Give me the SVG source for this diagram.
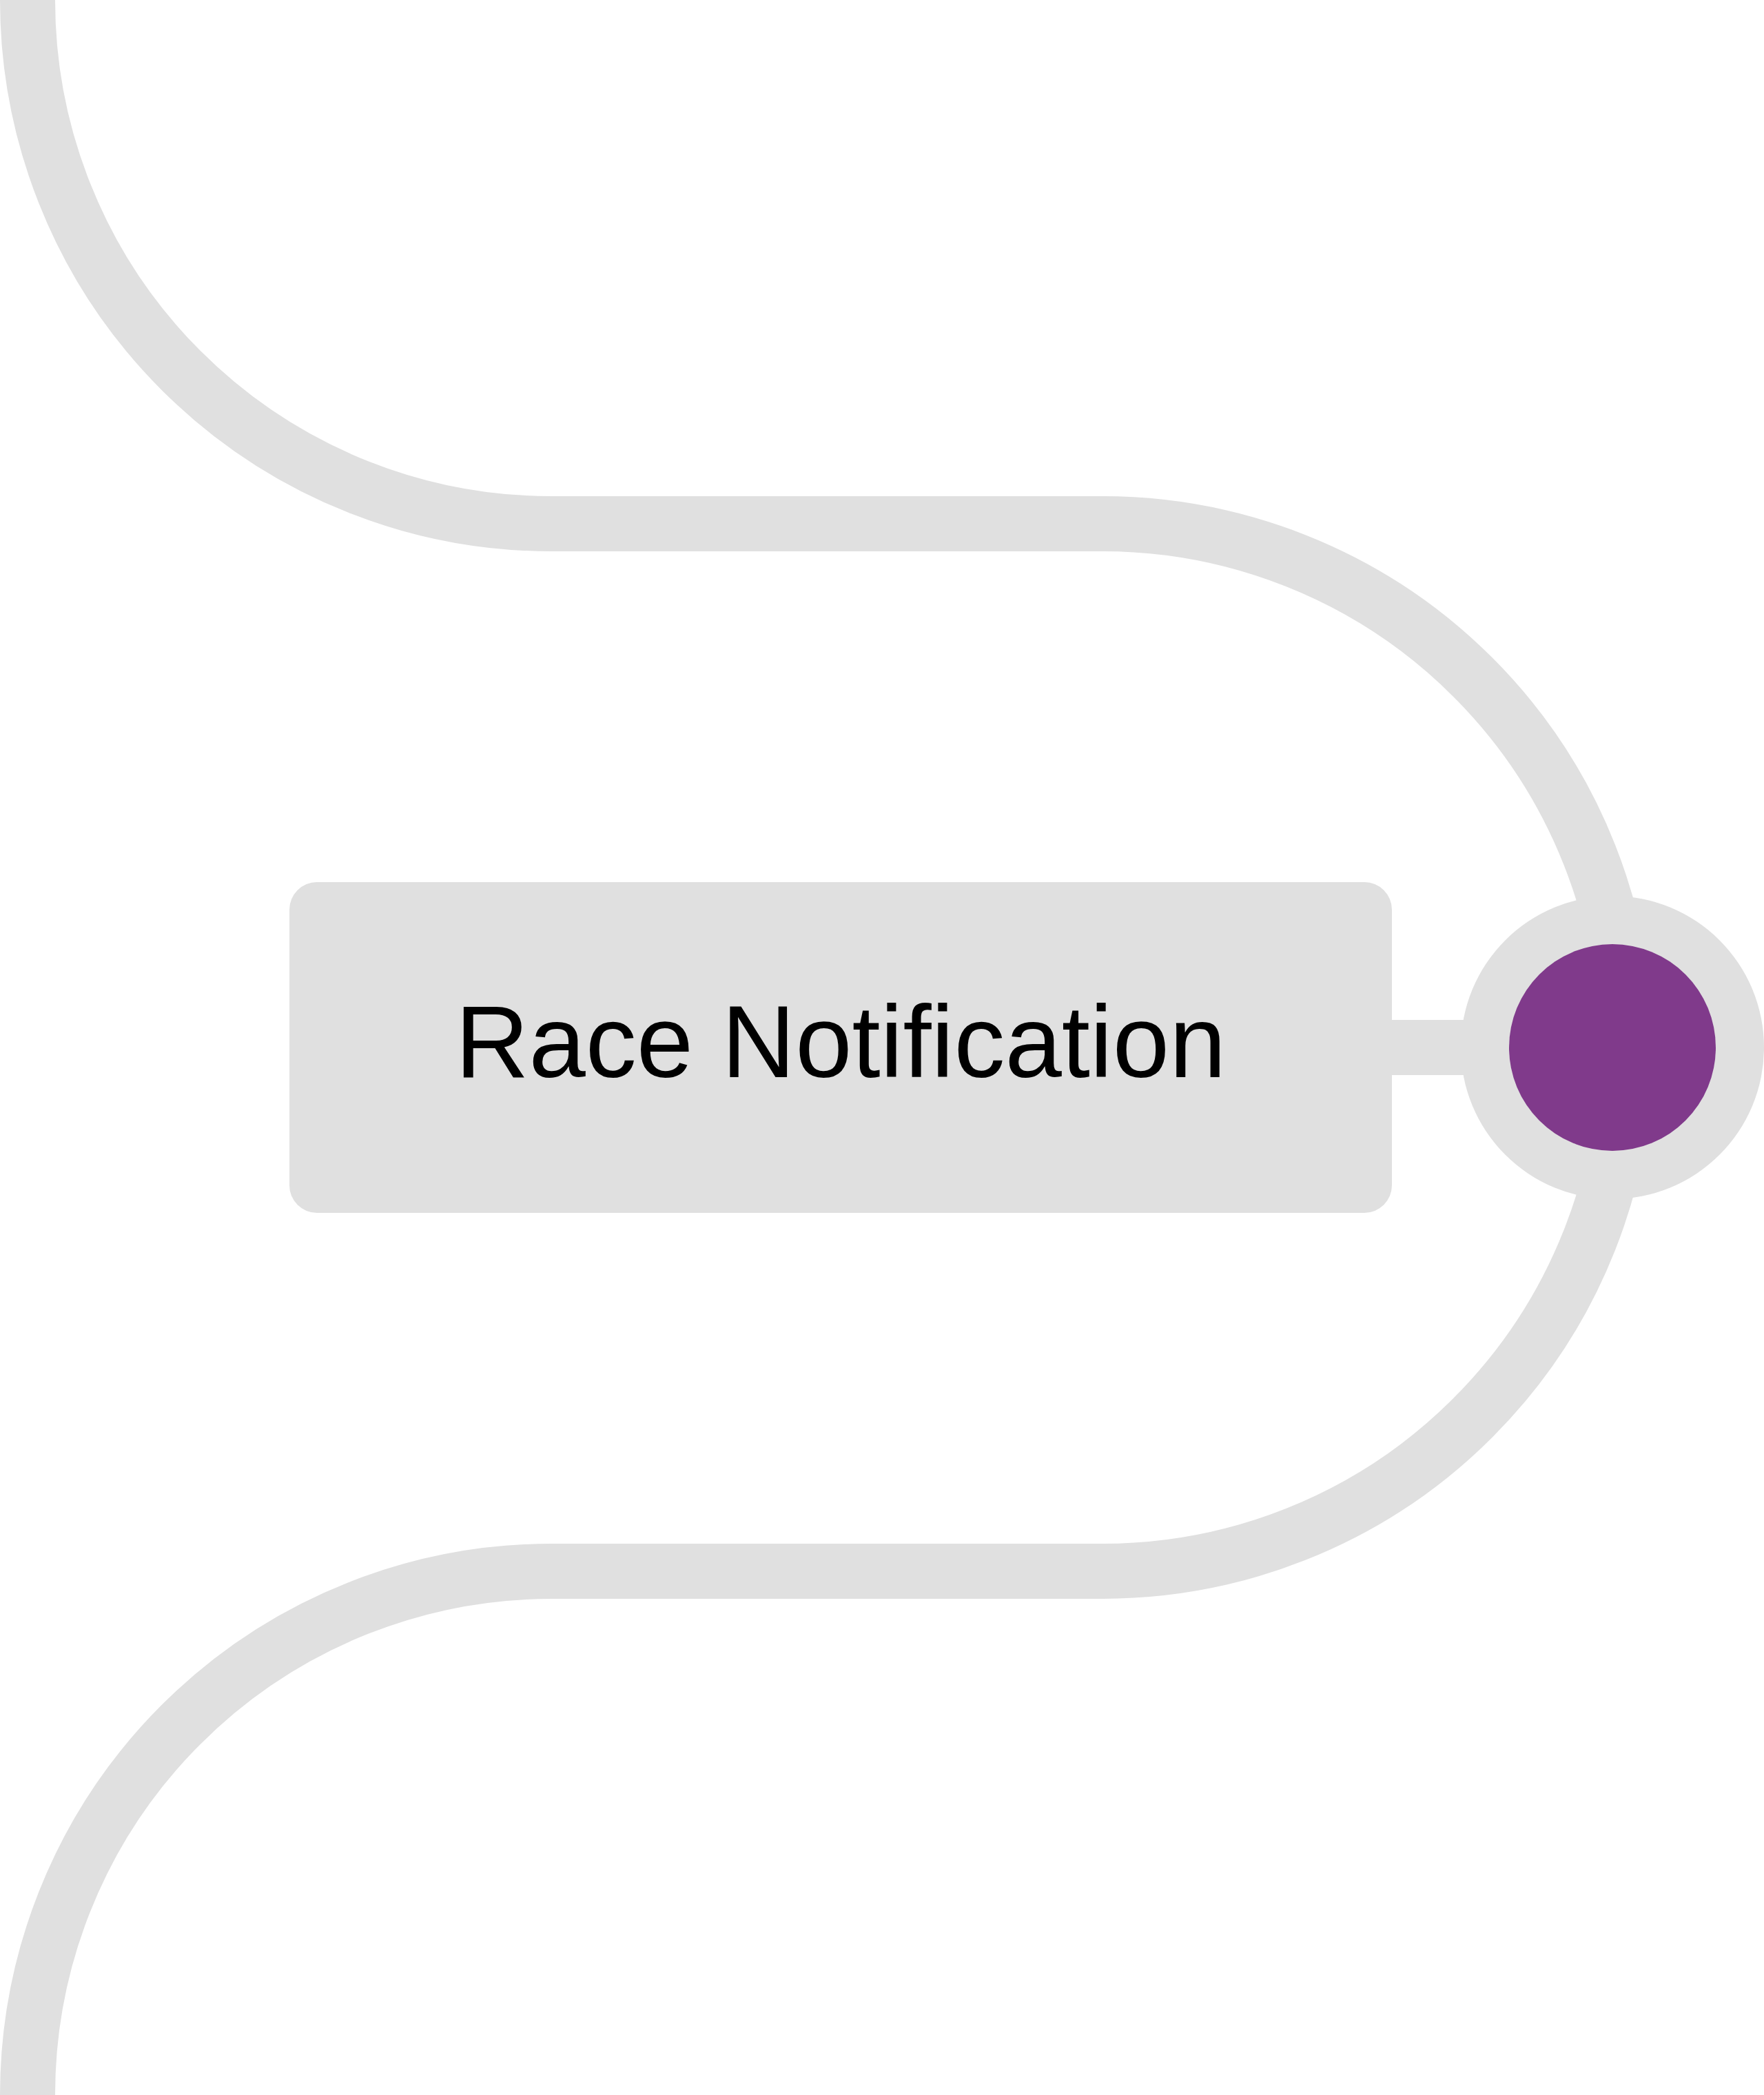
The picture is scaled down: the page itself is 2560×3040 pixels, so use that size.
<svg xmlns="http://www.w3.org/2000/svg" width="2560" height="3040" viewBox="0 0 2560 3040">
<style>
.track{fill:none;stroke:#e0e0e0;stroke-width:80}
.box{fill:#e0e0e0}
.label{font-family:"Liberation Sans",Arial,sans-serif;font-size:148px;fill:#000000;text-anchor:middle}
</style>
<rect x="0" y="0" width="2560" height="3040" fill="#ffffff"/>
<g id="connectors">
<path class="track" d="M40,0 A760,760 0 0 0 800,760 L1600,760 A760,760 0 0 1 1600,2280 L800,2280 A760,760 0 0 0 40,3040"/>
<line class="track" x1="2000" y1="1520" x2="2200" y2="1520"/>
</g>
<g id="node-race-notification">
<rect class="box" x="420" y="1280" width="1600" height="480" rx="40" ry="40"/>
<text class="label" x="1220" y="1563">Race Notification</text>
</g>
<g id="node-marker">
<circle cx="2340" cy="1520" r="220" fill="#e0e0e0"/>
<circle cx="2340" cy="1520" r="150" fill="#803a8b"/>
</g>
</svg>
